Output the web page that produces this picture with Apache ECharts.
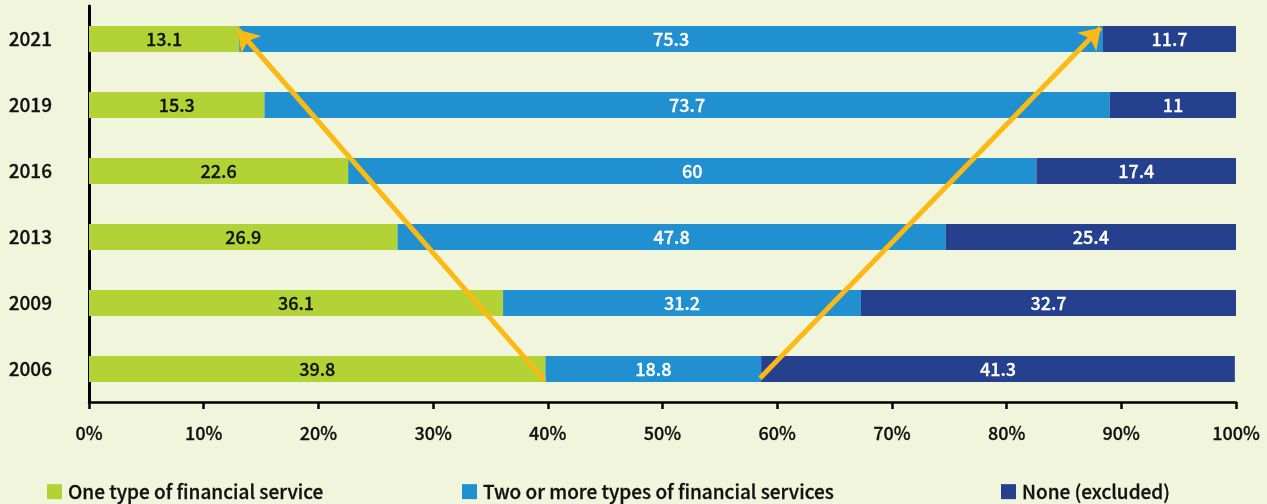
<!DOCTYPE html>
<html>
<head>
<meta charset="utf-8">
<script src="https://cdn.jsdelivr.net/npm/echarts@6/dist/echarts.min.js"></script>
<style>
  html, body { margin: 0; padding: 0; background: #f1f5dc; }
  #chart { width: 1267px; height: 504px; }
</style>
</head>
<body>
<div id="chart"></div>
<script>
const years = ["2006", "2009", "2013", "2016", "2019", "2021"];
const oneType = [39.8, 36.1, 26.9, 22.6, 15.3, 13.1];
const twoOrMore = [18.8, 31.2, 47.8, 60, 73.7, 75.3];
const noneExcluded = [41.3, 32.7, 25.4, 17.4, 11, 11.7];
const xTicks = [0, 10, 20, 30, 40, 50, 60, 70, 80, 90, 100];
// arrow ends: [percent, band position (0 = bottom of 2006 band, 6 = top of 2021 band)]
const arrowLeft = [[39.7, 0.33], [13.0, 5.64]];
const arrowRight = [[58.5, 0.36], [88.2, 5.67]];

const FONT = "'Noto Sans CJK JP', 'Noto Sans', sans-serif";

function text(size, color) {
  return {
    fontFamily: FONT,
    fontSize: size,
    fontWeight: 500,
    color: color,
    textBorderColor: color,
    textBorderWidth: 0.3
  };
}

const chart = echarts.init(document.getElementById("chart"));

function barSeries(name, data, color, textColor) {
  return {
    name: name,
    type: "bar",
    stack: "total",
    barWidth: 26,
    data: data,
    itemStyle: { color: color },
    label: Object.assign({ show: true, position: "inside" }, text(18, textColor)),
    z: 2
  };
}

function legendAt(left, name) {
  return {
    left: left,
    top: 477,
    itemWidth: 15,
    itemHeight: 15,
    itemGap: 0,
    icon: "rect",
    data: [name],
    selectedMode: false,
    textStyle: Object.assign(text(19, "#111"), { padding: [0, 0, 0, 1] })
  };
}

const option = {
  backgroundColor: "#f1f5dc",
  animation: false,
  grid: { left: 89, right: 31, top: 6, bottom: 102 },
  legend: [
    legendAt(42, "One type of financial service"),
    legendAt(457, "Two or more types of financial services"),
    legendAt(996, "None (excluded)")
  ],
  xAxis: {
    type: "value",
    min: 0,
    max: 100,
    interval: 10,
    axisLine: { show: true, lineStyle: { color: "#000", width: 2.5 } },
    axisTick: { show: true, length: 7, lineStyle: { color: "#000", width: 2.5 } },
    splitLine: { show: false },
    axisLabel: Object.assign(text(18, "#111"), {
      margin: 22,
      formatter: v => (xTicks.indexOf(v) >= 0 ? v + "%" : "")
    })
  },
  yAxis: [
    {
      type: "category",
      data: years,
      axisLine: { show: true, lineStyle: { color: "#000", width: 3 } },
      axisTick: { show: false },
      axisLabel: Object.assign(text(19, "#111"), { margin: 37 })
    },
    { type: "value", min: 0, max: 6, show: false }
  ],
  series: [
    barSeries("One type of financial service", oneType, "#b2d235", "#111"),
    barSeries("Two or more types of financial services", twoOrMore, "#2190d0", "#fff"),
    barSeries("None (excluded)", noneExcluded, "#25418e", "#fff"),
    {
      type: "lines",
      coordinateSystem: "cartesian2d",
      xAxisIndex: 0,
      yAxisIndex: 1,
      symbol: ["none", "arrow"],
      symbolSize: 20,
      lineStyle: { color: "#fbb913", width: 5, opacity: 1, curveness: 0 },
      data: [{ coords: arrowLeft }, { coords: arrowRight }],
      z: 10,
      silent: true
    }
  ]
};

chart.setOption(option);
</script>
</body>
</html>
